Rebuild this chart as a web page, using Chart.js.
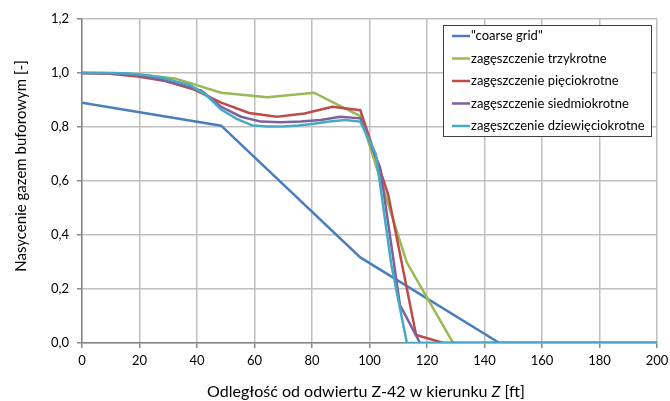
<!DOCTYPE html>
<html>
<head>
<meta charset="utf-8">
<script src="https://cdn.jsdelivr.net/npm/chart.js@4.4.1/dist/chart.umd.min.js"></script>
<style>
  html, body { margin: 0; padding: 0; background: #fff; }
  #wrap { width: 670px; height: 401px; }
</style>
</head>
<body>
<div id="wrap"><canvas id="satChart" width="670" height="401"></canvas></div>
<script>
// dane
const seriesNames = ['"coarse grid"', 'zagęszczenie trzykrotne', 'zagęszczenie pięciokrotne',
  'zagęszczenie siedmiokrotne', 'zagęszczenie dziewięciokrotne'];
const seriesColors = ['#4A7EBB', '#98B954', '#BE4B48', '#7D60A0', '#46AAC5'];

const coarseX = [0, 48.4, 96.8, 145.2, 200];
const coarseY = [0.89, 0.805, 0.317, 0, 0];

const x3 = [0, 16.1, 32.3, 48.4, 64.5, 80.7, 96.8, 112.9, 129.1, 200];
const y3 = [1.0, 0.998, 0.98, 0.927, 0.91, 0.927, 0.84, 0.30, 0, 0];

const x5 = [0, 9.7, 19.4, 29.0, 38.7, 48.4, 58.1, 67.8, 77.4, 87.1, 96.8, 106.5, 116.2, 125.8, 200];
const y5 = [1.0, 0.997, 0.987, 0.97, 0.94, 0.89, 0.852, 0.838, 0.85, 0.875, 0.862, 0.55, 0.03, 0, 0];

const x7 = [0, 6.9, 13.8, 20.7, 27.7, 34.6, 41.5, 48.4, 55.3, 62.2, 69.1, 76.1, 83.0, 89.9, 96.8, 103.7, 110.6, 117.6, 200];
const y7 = [1.0, 1.0, 0.998, 0.99, 0.975, 0.955, 0.935, 0.875, 0.838, 0.82, 0.818, 0.82, 0.826, 0.838, 0.832, 0.65, 0.14, 0, 0];

const x9 = [0, 5.4, 10.8, 16.1, 21.5, 26.9, 32.3, 37.6, 43.0, 48.4, 53.8, 59.2, 64.5, 69.9, 75.3, 80.7, 86.1, 91.4, 96.8, 102.2, 107.6, 113.0, 200];
const y9 = [1.0, 1.0, 1.0, 0.998, 0.993, 0.985, 0.97, 0.955, 0.92, 0.865, 0.83, 0.806, 0.802, 0.802, 0.806, 0.812, 0.82, 0.826, 0.82, 0.70, 0.29, 0, 0];

const xTicks = [0, 20, 40, 60, 80, 100, 120, 140, 160, 180, 200];
const yTicks = [0, 0.2, 0.4, 0.6, 0.8, 1.0, 1.2];

const xTitle = ['Odległość od odwiertu Z-42 w kierunku ', 'Z', ' [ft]'];
const yTitle = 'Nasycenie gazem buforowym [-]';

const FONT = 'Lato, "Liberation Sans", sans-serif';
const allX = [coarseX, x3, x5, x7, x9];
const allY = [coarseY, y3, y5, y7, y9];

const datasets = seriesNames.map((name, i) => ({
  label: name,
  data: allX[i].map((x, k) => ({ x: x, y: allY[i][k] })),
  borderColor: seriesColors[i],
  backgroundColor: seriesColors[i],
  borderWidth: 2.5,
  pointRadius: 0,
  tension: 0,
  order: 4 - i
}));

// legenda w ramce wewnątrz obszaru wykresu
const boxLegend = {
  id: 'boxLegend',
  afterDraw(chart) {
    const c = chart.ctx;
    const left = 443, top = 25, w = 208, h = 111;
    c.save();
    c.fillStyle = '#fff';
    c.fillRect(left, top, w, h);
    c.strokeStyle = '#404040';
    c.lineWidth = 1;
    c.strokeRect(left + 0.5, top + 0.5, w, h);
    c.font = '13px ' + FONT;
    c.textBaseline = 'middle';
    seriesNames.forEach((name, i) => {
      const y = 36 + i * 22.5;
      c.strokeStyle = seriesColors[i];
      c.lineWidth = 2.5;
      c.beginPath();
      c.moveTo(452, y);
      c.lineTo(470, y);
      c.stroke();
      c.fillStyle = '#000';
      c.fillText(name, 471, y);
    });
    c.restore();
  }
};

// tytuły osi (kursywa dla "Z")
const axisTitles = {
  id: 'axisTitles',
  afterDraw(chart) {
    const c = chart.ctx;
    c.save();
    c.fillStyle = '#000';
    c.textBaseline = 'middle';
    const normal = '16px ' + FONT, italic = 'italic 16px ' + FONT;
    const parts = [[xTitle[0], normal], [xTitle[1], italic], [xTitle[2], normal]];
    let total = 0;
    parts.forEach(p => { c.font = p[1]; total += c.measureText(p[0]).width; });
    let x = 366 - total / 2;
    parts.forEach(p => {
      c.font = p[1];
      c.fillText(p[0], x, 392);
      x += c.measureText(p[0]).width;
    });
    c.translate(21, 166);
    c.rotate(-Math.PI / 2);
    c.font = '15px ' + FONT;
    c.textAlign = 'center';
    c.fillText(yTitle, 0, 0);
    c.restore();
  }
};

const ctx = document.getElementById('satChart').getContext('2d');
const chart = new Chart(ctx, {
  type: 'line',
  data: { datasets: datasets },
  plugins: [boxLegend, axisTitles],
  options: {
    responsive: false,
    animation: false,
    layout: { padding: { top: 19, right: 13, left: 0, bottom: 0 } },
    plugins: { legend: { display: false }, tooltip: { enabled: false } },
    scales: {
      x: {
        type: 'linear',
        min: 0,
        max: 200,
        afterFit: s => { s.height = 58; s.paddingRight = 0; s.paddingLeft = 0; },
        afterBuildTicks: s => { s.ticks = xTicks.map(v => ({ value: v })); },
        ticks: { color: '#000', font: { family: FONT, size: 13 }, padding: 5, maxRotation: 0 },
        grid: { color: '#c0c0c0', lineWidth: 1.5, tickColor: '#868686', tickLength: 5 },
        border: { color: '#868686', width: 1.5 }
      },
      y: {
        min: 0,
        max: 1.2,
        afterFit: s => { s.width = 82; s.paddingTop = 0; s.paddingBottom = 0; },
        afterBuildTicks: s => { s.ticks = yTicks.map(v => ({ value: v })); },
        ticks: {
          color: '#000',
          font: { family: FONT, size: 13 },
          padding: 8,
          callback: v => v.toFixed(1).replace('.', ',')
        },
        grid: { color: '#c0c0c0', lineWidth: 1.5, tickColor: '#868686', tickLength: 5 },
        border: { color: '#868686', width: 1.5 }
      }
    }
  }
});
</script>
</body>
</html>
